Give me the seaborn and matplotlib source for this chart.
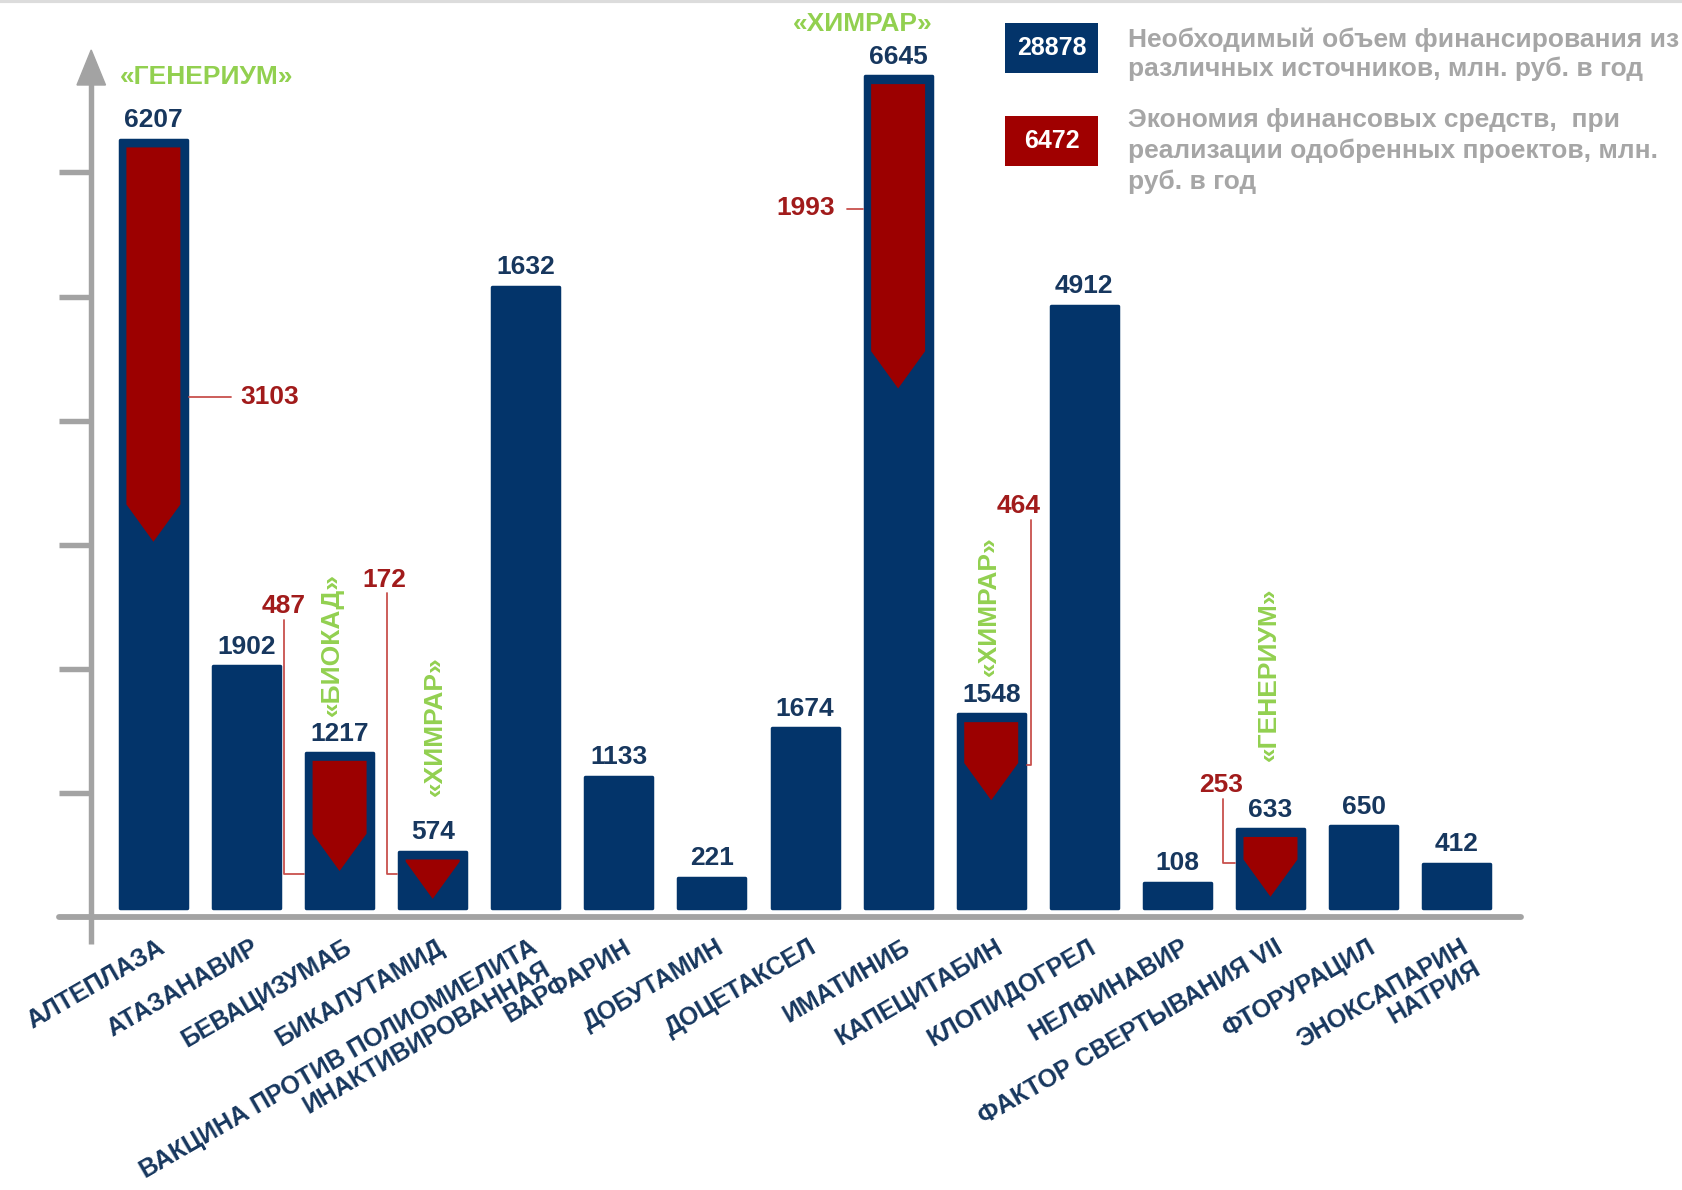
import matplotlib
matplotlib.use("Agg")
import numpy as np
import matplotlib.pyplot as plt
import seaborn as sns
import pandas as pd
from matplotlib.patches import Polygon, Rectangle
from matplotlib.lines import Line2D

# ---------------- data ----------------
categories = [
    "АЛТЕПЛАЗА", "АТАЗАНАВИР", "БЕВАЦИЗУМАБ", "БИКАЛУТАМИД",
    "ВАКЦИНА ПРОТИВ ПОЛИОМИЕЛИТА\nИНАКТИВИРОВАННАЯ", "ВАРФАРИН", "ДОБУТАМИН",
    "ДОЦЕТАКСЕЛ", "ИМАТИНИБ", "КАПЕЦИТАБИН", "КЛОПИДОГРЕЛ", "НЕЛФИНАВИР",
    "ФАКТОР СВЕРТЫВАНИЯ VII", "ФТОРУРАЦИЛ", "ЭНОКСАПАРИН\nНАТРИЯ",
]
# labelled funding values (млн. руб. в год)
funding_labels = [6207, 1902, 1217, 574, 1632, 1133, 221, 1674, 6645, 1548, 4912, 108, 633, 650, 412]
# bar heights as drawn in the picture (value units)
bar_heights_drawn = [6172, 1940, 1241, 448, 4991, 1052, 241, 1440, 6681, 1552, 4836, 198, 629, 655, 353]

# savings (red arrows)
saving_items = [0, 2, 3, 8, 9, 12]
saving_labels = [3103, 487, 172, 1993, 464, 253]
saving_tip_drawn = [2940, 293, 69, 4172, 862, 86]

# producer companies
company_items = [0, 2, 3, 8, 9, 12]
company_names = ["«ГЕНЕРИУМ»", "«БИОКАД»", "«ХИМРАР»", "«ХИМРАР»", "«ХИМРАР»", "«ГЕНЕРИУМ»"]

total_funding = 28878
total_saving = 6472
legend_funding = "Необходимый объем финансирования из\nразличных источников, млн. руб. в год"
legend_saving = "Экономия финансовых средств,  при\nреализации одобренных проектов, млн.\nруб. в год"

# ---------------- style ----------------
NAVY = "#03346a"
NAVY_TXT = "#17375e"
RED = "#9c0000"
RED_TXT = "#a11b1b"
LEADER = "#c8504d"
GREEN = "#92d050"
GRAY = "#a3a3a3"
LEG_GRAY = "#a6a6a6"

sns.set_theme(style="white")
plt.rcParams["font.family"] = ["Liberation Sans", "DejaVu Sans"]

W, H = 1682, 1190
fig = plt.figure(figsize=(W / 100, H / 100), dpi=100)
fig.patch.set_facecolor("white")
ax = fig.add_axes([0, 0, 1, 1])

df = pd.DataFrame({"cat": categories, "h": bar_heights_drawn})
sns.barplot(data=df, x="cat", y="h", order=categories, color=NAVY,
            saturation=1, width=0.72, errorbar=None, ax=ax, zorder=2,
            edgecolor=NAVY, linewidth=2.5)
for p in ax.patches:
    p.set_joinstyle("round")

# pixel <-> data mapping for decorations
PX0, PXS = 153.4, 93.09      # x pixel of first bar centre, px per category
PY0, PYS = 907.5, 0.1244     # y pixel of bar bottom, px per value unit


def X(px):
    return (px - PX0) / PXS


def Y(py):
    return (PY0 - py) / PYS


ax.set_xlim(X(0), X(W))
ax.set_ylim(Y(H), Y(0))
ax.axis("off")

# ---- axes decoration ----
ax_x = X(91.2)
ax.plot([ax_x, ax_x], [Y(944), Y(80)], color=GRAY, lw=3.9, solid_capstyle="butt", zorder=1)
ax.add_patch(Polygon([(ax_x, Y(50)), (X(77), Y(85)), (X(105.5), Y(85))],
                     closed=True, color=GRAY, zorder=1))
for tp in [171.6, 297.0, 420.8, 544.9, 668.6, 792.7]:
    ax.plot([X(59), ax_x], [Y(tp), Y(tp)], color=GRAY, lw=3.9,
            solid_capstyle="butt", zorder=1)
ax.plot([X(59), X(1521)], [Y(917), Y(917)], color=GRAY, lw=4.2,
        solid_capstyle="round", zorder=1)

# ---- value labels ----
for i, (h, lab) in enumerate(zip(bar_heights_drawn, funding_labels)):
    ax.annotate(f"{lab}", xy=(i, h), xytext=(0, 9), textcoords="offset points",
                ha="center", va="baseline", fontsize=19, fontweight="bold",
                color=NAVY_TXT, zorder=5)

# ---- red arrows ----
HW = 0.29
for idx, tip in zip(saving_items, saving_tip_drawn):
    top = bar_heights_drawn[idx] - 62
    shoulder = min(top, tip + 300)
    pts = [(idx - HW, top), (idx + HW, top), (idx + HW, shoulder),
           (idx, tip), (idx - HW, shoulder)]
    ax.add_patch(Polygon(pts, closed=True, facecolor=RED, edgecolor="none", zorder=3))

# ---- savings callouts (label position + leader path, in pixels) ----
callouts = [
    dict(text=(240, 397), ha="left", path=[(PX0 + 0.38 * PXS, 397), (231, 397)]),
    dict(text=(284, 606), ha="center", path=[(284, 620), (284, 874), (PX0 + (2 - 0.38) * PXS, 874)]),
    dict(text=(384, 580), ha="center", path=[(387, 593), (387, 874), (PX0 + (3 - 0.38) * PXS, 874)]),
    dict(text=(835, 208), ha="right", path=[(847, 209), (PX0 + (8 - 0.38) * PXS, 209)]),
    dict(text=(1019, 506), ha="center", path=[(1031, 520), (1031, 765), (PX0 + (9 + 0.38) * PXS, 765)]),
    dict(text=(1221, 785), ha="center", path=[(1223, 799), (1223, 863), (PX0 + (12 - 0.38) * PXS, 863)]),
]
for lab, c in zip(saving_labels, callouts):
    tx, ty = c["text"]
    ax.text(X(tx), Y(ty), f"{lab}", ha=c["ha"], va="center", fontsize=19,
            fontweight="bold", color=RED_TXT, zorder=5)
    xs = [X(p[0]) for p in c["path"]]
    ys = [Y(p[1]) for p in c["path"]]
    ax.plot(xs, ys, color=LEADER, lw=1.3, zorder=4)

# ---- company labels (position in pixels, rotation) ----
company_layout = [
    ((207, 77), 0), ((331.5, 644), 90), ((434.4, 726), 90),
    ((862.5, 24), 0), ((989, 606), 90), ((1269, 674), 90),
]
for name, ((cx, cy), rot) in zip(company_names, company_layout):
    ax.text(X(cx), Y(cy), name, ha="center", va="center", rotation=rot,
            fontsize=19, fontweight="bold", color=GREEN, zorder=5)

# ---- category labels (each line drawn separately, right-aligned) ----
ANG = 30
LINE_PT = 18.0
perp = np.array([np.sin(np.radians(ANG)), -np.cos(np.radians(ANG))])
for i, cat in enumerate(categories):
    for k, line in enumerate(cat.split("\n")):
        off = perp * LINE_PT * k
        ax.annotate(line, xy=(i + 0.04, Y(935)), xytext=(off[0], off[1]),
                    textcoords="offset points", rotation=ANG,
                    rotation_mode="anchor", ha="right", va="top",
                    fontsize=18, fontweight="bold", color=NAVY_TXT, zorder=5,
                    annotation_clip=False)


# ---- legend (figure pixel coordinates) ----
def fx(px):
    return px / W


def fy(py):
    return 1 - py / H


for (y0, y1), col, val in [((22.5, 73), NAVY, total_funding), ((116, 166), "#a00000", total_saving)]:
    fig.add_artist(Rectangle((fx(1005), fy(y1)), fx(1098) - fx(1005), fy(y0) - fy(y1),
                             transform=fig.transFigure, facecolor=col, edgecolor="none"))
    fig.text(fx(1051.5), fy((y0 + y1) / 2), f"{val}", ha="center", va="center",
             fontsize=18, fontweight="bold", color="white")

fig.text(fx(1128), fy(27), legend_funding, ha="left", va="top", fontsize=19,
         fontweight="bold", color=LEG_GRAY, linespacing=1.27)
fig.text(fx(1128), fy(108), legend_saving, ha="left", va="top", fontsize=19,
         fontweight="bold", color=LEG_GRAY, linespacing=1.33)

# faint top border
fig.add_artist(Line2D([0, 1], [fy(1), fy(1)], transform=fig.transFigure,
                      color="#dcdcdc", lw=3))

fig.savefig("out.png", dpi=100, facecolor="white")
